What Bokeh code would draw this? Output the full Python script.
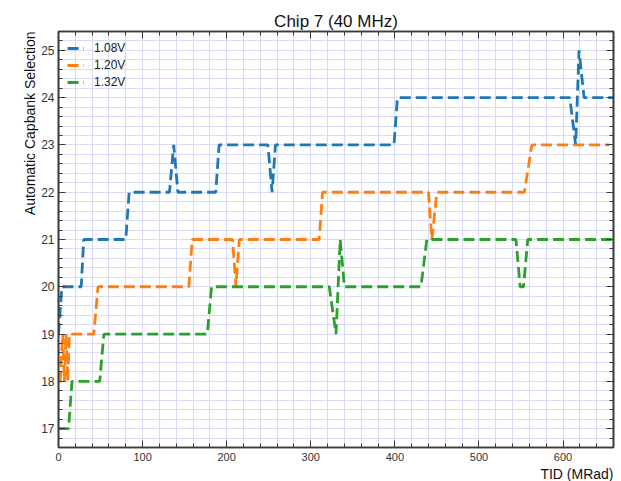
from bokeh.plotting import figure
from bokeh.models import (Range1d, SingleIntervalTicker, LinearAxis, Title,
                          Legend, LegendItem, CustomJSTickFormatter)
from bokeh.embed import file_html
from bokeh.resources import INLINE

# Capbank selection vs. total ionising dose, one series per supply voltage
tid_108 = [0, 4, 27, 30, 80, 84, 132, 137, 142, 187, 191, 249, 254, 258, 399, 403, 608, 615, 619, 625, 660]
cap_108 = [19, 20, 20, 21, 21, 22, 22, 23, 22, 22, 23, 23, 22, 23, 23, 24, 24, 23, 25, 24, 24]

tid_120 = [0, 2, 5, 7, 9, 11, 13, 42, 47, 155, 159, 207, 211, 215, 310, 314, 440, 444, 450, 554, 563, 655]
cap_120 = [18, 18, 19, 18, 19, 18, 19, 19, 20, 20, 21, 21, 20, 21, 21, 22, 22, 21, 22, 22, 23, 23]

tid_132 = [0, 12, 16, 49, 54, 177, 182, 322, 330, 335, 340, 431, 438, 544, 549, 553, 558, 658]
cap_132 = [17, 17, 18, 18, 19, 19, 20, 20, 19, 21, 20, 20, 21, 21, 20, 20, 21, 21]

labels = ["1.08V", "1.20V", "1.32V"]
colors = ["#1f77b4", "#ff7f0e", "#2ca02c"]

FONT = "Liberation Sans"
AXIS_COLOR = "#3a3a3a"
GRID_COLOR = "#dadaf4"

p = figure(width=621, height=481, output_backend="svg", toolbar_location=None,
           x_range=Range1d(0, 660), y_range=Range1d(16.6, 25.4),
           min_border_left=58, min_border_right=8, min_border_top=31,
           min_border_bottom=29, background_fill_color="white",
           border_fill_color="white")

p.title.text = "Chip 7 (40 MHz)"
p.title.align = "center"
p.title.text_font = FONT
p.title.text_font_size = "17px"
p.title.text_font_style = "normal"
p.title.text_color = "#111111"
p.title.standoff = 2

xticker = SingleIntervalTicker(interval=100, num_minor_ticks=5)
yticker = SingleIntervalTicker(interval=1, num_minor_ticks=5)

blank = CustomJSTickFormatter(code="return ''")
p.add_layout(LinearAxis(ticker=xticker, formatter=blank,
                        major_label_text_font_size="0px"), "above")
p.add_layout(LinearAxis(ticker=yticker, formatter=blank,
                        major_label_text_font_size="0px"), "right")

p.xaxis[0].ticker = xticker
p.yaxis[0].ticker = yticker

for ax in p.axis:
    ax.axis_line_color = AXIS_COLOR
    ax.axis_line_width = 1.6
    ax.major_tick_line_color = AXIS_COLOR
    ax.minor_tick_line_color = AXIS_COLOR
    ax.major_tick_in = 7
    ax.major_tick_out = 0
    ax.minor_tick_in = 4
    ax.minor_tick_out = 0
    ax.major_label_text_font = FONT
    ax.major_label_text_color = "#333333"

p.xaxis[0].major_label_text_font_size = "12px"
p.xaxis[0].major_label_standoff = 2
p.yaxis[0].major_label_text_font_size = "12px"
p.yaxis[0].major_label_standoff = 4

p.xgrid.ticker = xticker
p.ygrid.ticker = yticker
for g in (p.xgrid[0], p.ygrid[0]):
    g.grid_line_color = GRID_COLOR
    g.grid_line_width = 1
    g.minor_grid_line_color = GRID_COLOR
    g.minor_grid_line_width = 1

p.outline_line_color = AXIS_COLOR
p.outline_line_width = 1.6

# axis titles sit at the far ends of their axes
p.add_layout(Title(text="TID (MRad)", align="right", text_font=FONT,
                   text_font_size="14px", text_font_style="normal",
                   text_line_height=0.7, text_color="#111111", standoff=0), "below")
p.add_layout(Title(text="Automatic Capbank Selection", align="right", text_font=FONT,
                   text_font_size="14px", text_font_style="normal",
                   text_color="#111111", standoff=2), "left")

items = []
for xs, ys, lab, col in zip((tid_108, tid_120, tid_132),
                            (cap_108, cap_120, cap_132), labels, colors):
    r = p.line(xs, ys, line_color=col, line_width=2.8, line_dash="11 5")
    items.append(LegendItem(label=lab, renderers=[r]))

legend = Legend(items=items, location="top_left", background_fill_alpha=0,
                border_line_color=None, label_text_font=FONT,
                label_text_font_size="12px", label_text_color="#222222",
                glyph_width=17, glyph_height=16, label_height=16,
                label_standoff=10, spacing=1, margin=9, padding=8)
p.add_layout(legend)

open("out.html", "w").write(file_html(p, INLINE))
